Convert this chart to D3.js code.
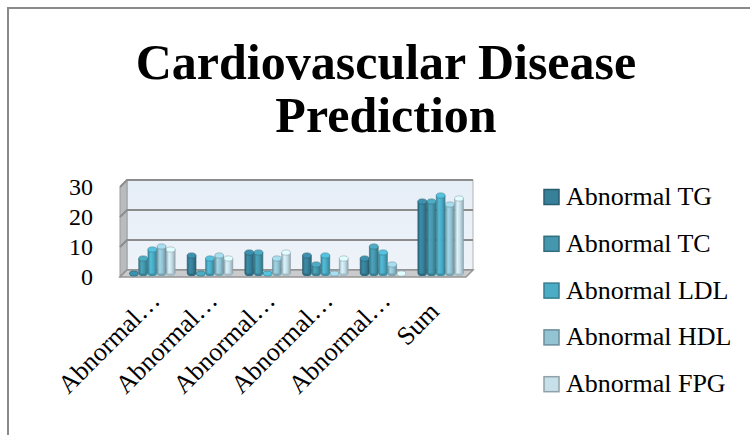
<!DOCTYPE html>
<html>
<head>
<meta charset="utf-8">
<script src="https://cdn.jsdelivr.net/npm/d3@7"></script>
<style>
  body { margin: 0; background: #fff; }
  svg { display: block; }
  text { font-family: "Liberation Serif", "Times New Roman", serif; fill: #000; }
</style>
</head>
<body>
<svg id="chart" width="750" height="435"></svg>
<script>
// chart data
const categories = ["Abnormal TG", "Abnormal TC", "Abnormal LDL", "Abnormal HDL", "Abnormal FPG", "Sum"];
const seriesNames = ["Abnormal TG", "Abnormal TC", "Abnormal LDL", "Abnormal HDL", "Abnormal FPG"];
const seriesColors = ["#37809a", "#4597ad", "#4bacc6", "#93c4d4", "#c6dfe9"];
const valuesTG = [0, 6, 7, 6, 5, 24];
const valuesTC = [5, 0, 7, 3, 9, 24];
const valuesLDL = [8, 5, 0, 6, 7, 26];
const valuesHDL = [9, 6, 5, 0, 3, 23];
const valuesFPG = [8, 5, 7, 5, 0, 25];
const yTicks = [0, 10, 20, 30];
const titleLines = ["Cardiovascular Disease", "Prediction"];

const series = [valuesTG, valuesTC, valuesLDL, valuesHDL, valuesFPG];

const svg = d3.select("#chart");
const defs = svg.append("defs");

// outer frame
svg.append("rect")
  .attr("x", 8).attr("y", 8)
  .attr("width", 800).attr("height", 500)
  .attr("fill", "none")
  .attr("stroke", "#8a8a8a")
  .attr("stroke-width", 2);

// title
svg.append("text")
  .attr("text-anchor", "middle")
  .style("font-weight", "bold")
  .style("font-size", "50px")
  .selectAll("tspan")
  .data(titleLines)
  .enter()
  .append("tspan")
  .attr("x", 386)
  .attr("y", (d, i) => 79 + i * 53)
  .text(d => d);

// 3d plot geometry: back wall, depth offset
const wall = { left: 127, right: 473, top: 180, bottom: 270 };
const depth = { dx: -7, dy: 7 };

const yBack = d3.scaleLinear().domain([0, 30]).range([wall.bottom, wall.top]);
const yFront = d3.scaleLinear().domain([0, 30]).range([wall.bottom + depth.dy, wall.top + depth.dy]);
const yMid = v => yBack(v) + depth.dy / 2;

const xGroup = d3.scaleBand()
  .domain(categories)
  .range([wall.left + depth.dx / 2, wall.right + depth.dx / 2]);
const groupWidth = 46;
const xBar = d3.scaleBand().domain(seriesNames).range([0, groupWidth]);

// back wall
const wallGrad = defs.append("linearGradient")
  .attr("id", "wallGrad").attr("x1", 0).attr("y1", 0).attr("x2", 0).attr("y2", 1);
wallGrad.append("stop").attr("offset", "0%").attr("stop-color", "#e6eef7");
wallGrad.append("stop").attr("offset", "100%").attr("stop-color", "#eef3f9");

svg.append("rect")
  .attr("x", wall.left).attr("y", wall.top)
  .attr("width", wall.right - wall.left)
  .attr("height", wall.bottom - wall.top)
  .attr("fill", "url(#wallGrad)")
  .attr("stroke", "#b4b4b4")
  .attr("stroke-width", 1);

// side wall
svg.append("polygon")
  .attr("points", [
    [wall.left, wall.top],
    [wall.left + depth.dx, wall.top + depth.dy],
    [wall.left + depth.dx, wall.bottom + depth.dy],
    [wall.left, wall.bottom]
  ].join(" "))
  .attr("fill", "#b9bcbf")
  .attr("stroke", "#9a9a9a")
  .attr("stroke-width", 1);

// gridlines
yTicks.forEach(t => {
  svg.append("polyline")
    .attr("points", [
      [wall.left + depth.dx, yFront(t)],
      [wall.left, yBack(t)],
      [wall.right, yBack(t)]
    ].join(" "))
    .attr("fill", "none")
    .attr("stroke", "#8c8c8c")
    .attr("stroke-width", 2);
});

// floor
svg.append("polygon")
  .attr("points", [
    [wall.left, wall.bottom],
    [wall.right, wall.bottom],
    [wall.right + depth.dx, wall.bottom + depth.dy],
    [wall.left + depth.dx, wall.bottom + depth.dy]
  ].join(" "))
  .attr("fill", "#c9cbcd")
  .attr("stroke", "#979797")
  .attr("stroke-width", 1.5);

// cylinder gradients
seriesColors.forEach((c, i) => {
  const base = d3.color(c);
  const g = defs.append("linearGradient")
    .attr("id", "cyl" + i).attr("x1", 0).attr("y1", 0).attr("x2", 1).attr("y2", 0);
  g.append("stop").attr("offset", "0%").attr("stop-color", base.darker(0.7));
  g.append("stop").attr("offset", "30%").attr("stop-color", base.brighter(0.25));
  g.append("stop").attr("offset", "60%").attr("stop-color", base);
  g.append("stop").attr("offset", "100%").attr("stop-color", base.darker(0.8));
});

// bars
const bw = xBar.bandwidth() - 0.4;
const ry = 2.6;
categories.forEach((cat, ci) => {
  const gx = xGroup(cat) + (xGroup.bandwidth() - groupWidth) / 2;
  series.forEach((vals, si) => {
    const v = vals[ci];
    const cx = gx + xBar(seriesNames[si]) + xBar.bandwidth() / 2;
    const yb = yMid(0);
    const yt = yMid(v);
    const col = d3.color(seriesColors[si]);
    const g = svg.append("g").attr("class", "cylinder");
    g.append("ellipse")
      .attr("cx", cx).attr("cy", yb)
      .attr("rx", bw / 2).attr("ry", ry)
      .attr("fill", col.darker(0.5));
    if (v > 0) {
      g.append("rect")
        .attr("x", cx - bw / 2).attr("y", yt)
        .attr("width", bw).attr("height", yb - yt)
        .attr("fill", "url(#cyl" + si + ")");
      g.append("line")
        .attr("x1", cx - bw / 2).attr("x2", cx - bw / 2)
        .attr("y1", yt).attr("y2", yb)
        .attr("stroke", col.darker(1)).attr("stroke-width", 0.6);
      g.append("line")
        .attr("x1", cx + bw / 2).attr("x2", cx + bw / 2)
        .attr("y1", yt).attr("y2", yb)
        .attr("stroke", col.darker(1)).attr("stroke-width", 0.6);
    }
    g.append("ellipse")
      .attr("cx", cx).attr("cy", yt)
      .attr("rx", bw / 2).attr("ry", ry)
      .attr("fill", col.brighter(0.35))
      .attr("stroke", col.darker(0.8))
      .attr("stroke-width", 0.6);
  });
});

// y axis labels
const yAxis = d3.axisLeft(yFront)
  .tickValues(yTicks)
  .tickSize(0)
  .tickPadding(27);
const yAxisG = svg.append("g")
  .attr("transform", "translate(" + (wall.left + depth.dx) + ",0)")
  .call(yAxis);
yAxisG.select(".domain").remove();
yAxisG.selectAll("text")
  .style("font-family", "Liberation Serif, serif")
  .style("font-size", "24px")
  .attr("fill", "#000");

// x axis labels, rotated; long names are cut like the spreadsheet does
const isLong = d => d.length > 8;
const shortLabel = d => isLong(d) ? d.slice(0, 8) + "…" : d;
svg.selectAll(".x-label")
  .data(categories)
  .enter()
  .append("text")
  .attr("class", "x-label")
  .attr("text-anchor", "end")
  .style("font-size", "26px")
  .attr("transform", d => {
    const c = xGroup(d) + xGroup.bandwidth() / 2;
    const x = isLong(d) ? c + 9 : c;
    const y = isLong(d) ? 302 : 313;
    return "translate(" + x + "," + y + ") rotate(-45)";
  })
  .text(shortLabel);

// legend
const legend = svg.append("g")
  .selectAll("g")
  .data(seriesNames)
  .enter()
  .append("g")
  .attr("transform", (d, i) => "translate(544," + (197 + i * 46.8) + ")");
legend.append("rect")
  .attr("x", 0).attr("y", -7.5)
  .attr("width", 15).attr("height", 15)
  .attr("fill", (d, i) => seriesColors[i])
  .attr("stroke", (d, i) => d3.color(seriesColors[i]).darker(0.9))
  .attr("stroke-width", 1.5);
legend.append("text")
  .attr("x", 22).attr("y", 8)
  .style("font-size", "26px")
  .text(d => d);
</script>
</body>
</html>
